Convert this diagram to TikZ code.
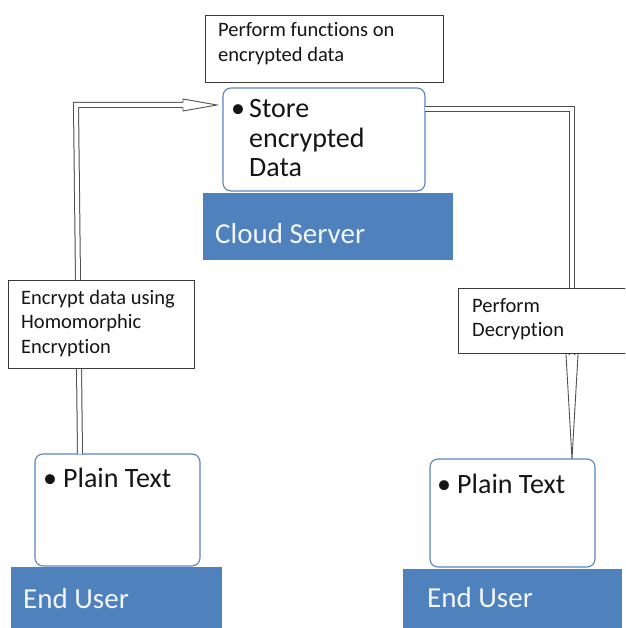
\documentclass[tikz,border=0pt]{standalone}
\usepackage{fontspec}
\setmainfont{Carlito}[Ligatures=CommonOff]
\definecolor{barblue}{HTML}{4F81BD}
\definecolor{cardblue}{HTML}{5B84BF}
\definecolor{notegray}{HTML}{3A3A3A}
\definecolor{conngray}{HTML}{505050}
\definecolor{txt}{HTML}{151515}
\definecolor{bartxt}{HTML}{F2F6FB}
\begin{document}
\begin{tikzpicture}[x=1pt,y=-1pt,
  bar/.style={fill=barblue, draw=none, anchor=north west, inner sep=0pt, outer sep=0pt},
  card/.style={draw=cardblue, line width=1.1pt, fill=white, rounded corners=8pt, anchor=north west, inner sep=0pt, outer sep=0pt},
  note/.style={draw=notegray, line width=0.9pt, fill=white, anchor=north west, inner sep=0pt, outer sep=0pt},
  conn/.style={draw=conngray, line width=1pt, double=white, double distance=4pt},
  headstyle/.style={draw=conngray, fill=white, line width=0.9pt, line join=miter},
  bigtxt/.style={anchor=base west, inner sep=0pt, text=txt, font=\fontsize{28}{29.5}\selectfont},
  bartext/.style={anchor=base west, inner sep=0pt, text=bartxt, font=\fontsize{29}{31}\selectfont},
  notetxt/.style={anchor=base west, inner sep=0pt, text=txt, font=\fontsize{20.5}{24.5}\selectfont}
]
\useasboundingbox (0,0) rectangle (625,628);
\clip (0,0) rectangle (625,628);

% boxes
\node[card, minimum width=202pt, minimum height=103pt] (cloudbox) at (223,88) {};
\node[bar, minimum width=250pt, minimum height=67pt] (cloudbar) at (203,193) {};
\node[card, minimum width=165pt, minimum height=112pt] (lbox) at (35,454) {};
\node[bar, minimum width=211pt, minimum height=65pt] (lbar) at (11,567) {};
\node[card, minimum width=165pt, minimum height=108pt] (rbox) at (430,459) {};
\node[bar, minimum width=219pt, minimum height=63pt] (rbar) at (403,569) {};

% texts in boxes
\node[bigtxt] (cloudtxt) at (231,118) {\begin{tabular}[t]{@{}l@{}l@{}}\makebox[18pt][l]{\textbullet}&Store\\&encrypted\\&Data\end{tabular}};
\node[bartext] (cloudlbl) at (215,243) {Cloud Server};
\node[bigtxt] (ltxt) at (43,487) {\makebox[20pt][l]{\textbullet}Plain Text};
\node[bigtxt] (rtxt) at (437,493) {\makebox[20pt][l]{\textbullet}Plain Text};
\node[bartext] (llbl) at (23,608) {End User};
\node[bartext] (rlbl) at (427,607) {End User};

% connectors
\coordinate (lbot) at ([xshift=45pt]lbox.north west);
\coordinate (lcorner) at (76,105);
\coordinate (lhead) at (183,105);
\draw[conn] (lbot) -- (lcorner) -- (lhead);
\draw[headstyle] ([yshift=-2.5pt]lhead) -- ([yshift=-6pt]lhead) -- ([xshift=-6pt]cloudbox.west |- lhead) -- ([yshift=6pt]lhead) -- ([yshift=2.5pt]lhead);

\coordinate (rcorner) at (572,109.5);
\coordinate (rhead) at (572,355);
\draw[conn] (cloudbox.east |- rcorner) -- (rcorner) -- (rhead);
\draw[headstyle] ([xshift=-2.5pt]rhead) -- ([xshift=-6.5pt,yshift=9pt]rhead) -- (rhead |- rbox.north) -- ([xshift=6.5pt,yshift=9pt]rhead) -- ([xshift=2.5pt]rhead);

% notes
\node[note, minimum width=238pt, minimum height=67pt] (topnote) at (205,15) {};
\node[notetxt] at (218,37) {\begin{tabular}[t]{@{}l@{}}Perform functions on\\encrypted data\end{tabular}};
\node[note, minimum width=186pt, minimum height=88pt] (lnote) at (8,280) {};
\node[notetxt] at (21,304) {\begin{tabular}[t]{@{}l@{}}Encrypt data using\\Homomorphic\\Encryption\end{tabular}};
\node[note, minimum width=180pt, minimum height=65pt] (rnote) at (458,288) {};
\node[notetxt] at (472,312) {\begin{tabular}[t]{@{}l@{}}Perform\\Decryption\end{tabular}};
\end{tikzpicture}
\end{document}
